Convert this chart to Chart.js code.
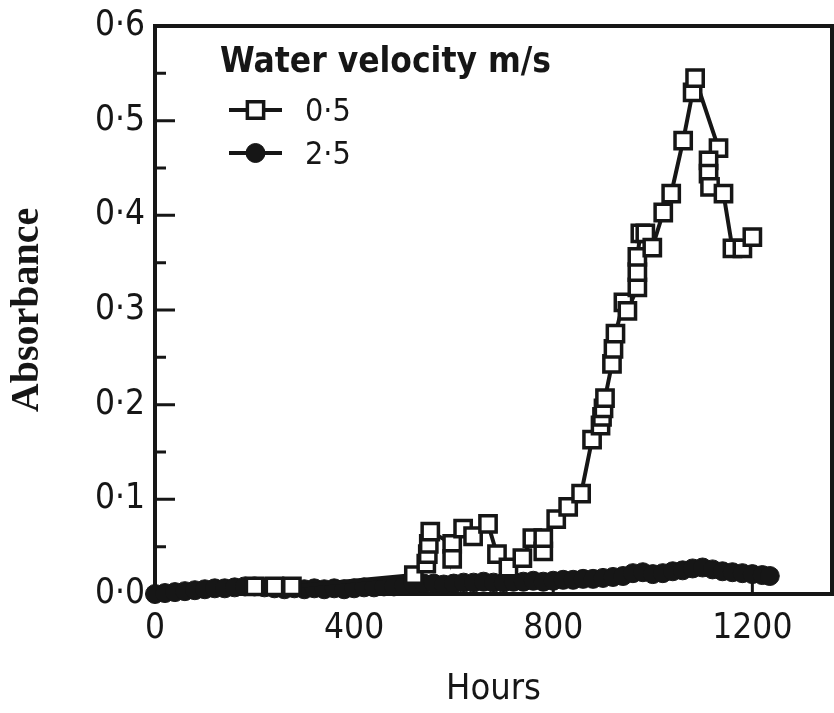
<!DOCTYPE html>
<html><head><meta charset="utf-8">
<script src="https://cdn.jsdelivr.net/npm/chart.js@4/dist/chart.umd.min.js"></script>
<style>html,body{margin:0;padding:0;background:#fff}#wrap{width:834px;height:713px}</style>
</head><body><div id="wrap"><canvas id="c" width="834" height="713"></canvas></div>
<script>
// ---- data ----
const legendTitle = 'Water velocity m/s';
const seriesLabels = ['0·5', '2·5'];
const xTitle = 'Hours';
const yTitle = 'Absorbance';
const xTicks = [0, 400, 800, 1200];
const yTicks = [0, 0.1, 0.2, 0.3, 0.4, 0.5, 0.6];

// 0.5 m/s (open squares)
const hoursA = [200, 240, 275, 520, 545, 548, 550, 553, 597, 597, 619, 639, 669, 687, 710, 738, 758, 780, 780, 806, 830, 856, 878, 895, 898, 901, 904, 918, 921, 925, 941, 949, 969, 969, 969, 975, 985, 999, 1021, 1037, 1061, 1080, 1085, 1132, 1112, 1112, 1115, 1142, 1160, 1180, 1200];
const absA   = [0.008, 0.008, 0.008, 0.020, 0.032, 0.042, 0.053, 0.066, 0.053, 0.037, 0.069, 0.061, 0.074, 0.042, 0.028, 0.038, 0.059, 0.045, 0.059, 0.079, 0.092, 0.106, 0.163, 0.178, 0.187, 0.196, 0.207, 0.243, 0.259, 0.275, 0.308, 0.299, 0.324, 0.340, 0.356, 0.381, 0.381, 0.366, 0.403, 0.423, 0.479, 0.530, 0.545, 0.471, 0.458, 0.444, 0.430, 0.423, 0.365, 0.365, 0.377];

// 2.5 m/s (filled circles)
const hoursB = [0, 20, 40, 60, 80, 100, 120, 140, 160, 180, 200, 220, 240, 260, 280, 300, 320, 340, 360, 380, 400, 420, 440, 460, 480, 500, 520, 540, 560, 580, 600, 620, 640, 660, 680, 700, 720, 740, 760, 780, 800, 820, 840, 860, 880, 900, 920, 940, 960, 980, 1000, 1020, 1040, 1060, 1080, 1100, 1120, 1140, 1160, 1180, 1200, 1220, 1235];
const absB   = [0.000, 0.001, 0.002, 0.003, 0.004, 0.005, 0.006, 0.006, 0.007, 0.008, 0.008, 0.007, 0.006, 0.005, 0.006, 0.005, 0.006, 0.005, 0.006, 0.005, 0.006, 0.007, 0.007, 0.008, 0.008, 0.009, 0.010, 0.011, 0.011, 0.010, 0.011, 0.012, 0.012, 0.013, 0.012, 0.012, 0.013, 0.013, 0.014, 0.013, 0.014, 0.015, 0.015, 0.016, 0.016, 0.017, 0.018, 0.019, 0.022, 0.023, 0.021, 0.022, 0.024, 0.025, 0.027, 0.028, 0.026, 0.024, 0.023, 0.022, 0.021, 0.020, 0.019];

// ---- styling ----
const INK = '#161616';
const TICK_FONT = '"DejaVu Sans Condensed", "Liberation Sans Narrow", "DejaVu Sans", sans-serif';
const fmt = v => v.toFixed(1).replace('.', '·');

const frameTicks = {
  id: 'frameTicks',
  beforeDatasetsDraw(chart) {
    const ctx = chart.ctx, a = chart.chartArea;
    const ys = chart.scales.y, xs = chart.scales.x;
    ctx.save();
    ctx.strokeStyle = INK;
    ctx.lineWidth = 4;
    ctx.strokeRect(a.left, a.top, a.right - a.left, a.bottom - a.top);
    ctx.lineWidth = 3;
    ctx.beginPath();
    yTicks.forEach(v => {
      const p = ys.getPixelForValue(v);
      ctx.moveTo(a.left, p); ctx.lineTo(a.left + 20, p);
    });
    for (let i = 0; i < yTicks.length - 1; i++) {
      const p = ys.getPixelForValue((yTicks[i] + yTicks[i + 1]) / 2);
      ctx.moveTo(a.left, p); ctx.lineTo(a.left + 11, p);
    }
    xTicks.forEach(v => {
      const p = xs.getPixelForValue(v);
      ctx.moveTo(p, a.bottom); ctx.lineTo(p, a.bottom - 12);
    });
    ctx.stroke();
    ctx.restore();
  }
};

const legendBox = {
  id: 'legendBox',
  afterDraw(chart) {
    const ctx = chart.ctx, a = chart.chartArea;
    ctx.save();
    ctx.fillStyle = INK;
    ctx.textBaseline = 'alphabetic';
    ctx.textAlign = 'left';
    ctx.font = 'bold 35px ' + TICK_FONT;
    ctx.fillText(legendTitle, a.left + 65, a.top + 46);
    ctx.font = '32px ' + TICK_FONT;
    chart.data.datasets.forEach((ds, i) => {
      const cy = a.top + 84 + i * 43;
      const x0 = a.left + 74, x1 = a.left + 127, cx = (x0 + x1) / 2;
      ctx.strokeStyle = INK;
      ctx.lineWidth = 4;
      ctx.beginPath(); ctx.moveTo(x0, cy); ctx.lineTo(x1, cy); ctx.stroke();
      ctx.fillStyle = ds.pointBackgroundColor;
      ctx.strokeStyle = ds.pointBorderColor;
      ctx.lineWidth = ds.pointBorderWidth;
      Chart.helpers.drawPoint(ctx, { pointStyle: ds.pointStyle, radius: ds.pointRadius, borderWidth: ds.pointBorderWidth, rotation: 0 }, cx, cy);
      ctx.fillStyle = INK;
      ctx.fillText(ds.label, a.left + 150, cy + 11);
    });
    ctx.restore();
  }
};

new Chart(document.getElementById('c'), {
  type: 'line',
  data: {
    datasets: [
      {
        label: seriesLabels[0],
        data: hoursA.map((h, i) => ({ x: h, y: absA[i] })),
        borderColor: INK, borderWidth: 4,
        pointStyle: 'rect', pointRadius: 11.5, pointBorderWidth: 3.5,
        pointBackgroundColor: '#ffffff', pointBorderColor: INK,
        tension: 0, clip: false, order: 0
      },
      {
        label: seriesLabels[1],
        data: hoursB.map((h, i) => ({ x: h, y: absB[i] })),
        borderColor: INK, borderWidth: 8,
        pointStyle: 'circle', pointRadius: 9.5, pointBorderWidth: 1,
        pointBackgroundColor: INK, pointBorderColor: INK,
        tension: 0, clip: false, order: 1
      }
    ]
  },
  options: {
    responsive: false,
    animation: false,
    devicePixelRatio: 1,
    layout: { autoPadding: false, padding: { top: 26, right: 2, left: 0, bottom: 0 } },
    plugins: { legend: { display: false }, tooltip: { enabled: false } },
    scales: {
      x: {
        type: 'linear', min: 0, max: 1360,
        afterBuildTicks: s => { s.ticks = xTicks.map(v => ({ value: v })); },
        afterFit: s => { s.height = 119; s.paddingRight = 0; s.paddingLeft = 0; },
        grid: { display: false, drawTicks: false },
        border: { display: false },
        ticks: { color: INK, padding: 14, font: { family: TICK_FONT, size: 35 }, maxRotation: 0, callback: v => String(v) },
        title: { display: true, text: xTitle, color: INK, font: { family: TICK_FONT, size: 36 }, padding: { top: 0, bottom: 2 } }
      },
      y: {
        type: 'linear', min: 0, max: 0.6,
        afterBuildTicks: s => { s.ticks = yTicks.map(v => ({ value: v })); },
        afterFit: s => { s.width = 155; s.paddingTop = 0; s.paddingBottom = 0; },
        grid: { display: false, drawTicks: false },
        border: { display: false },
        ticks: { color: INK, padding: 10, font: { family: TICK_FONT, size: 35 }, callback: v => fmt(v) },
        title: { display: true, text: yTitle, color: INK, font: { family: '"Liberation Serif", "DejaVu Serif", serif', size: 40, weight: 'bold' }, padding: { top: 4, bottom: 0 } }
      }
    }
  },
  plugins: [frameTicks, legendBox]
});
</script></body></html>
